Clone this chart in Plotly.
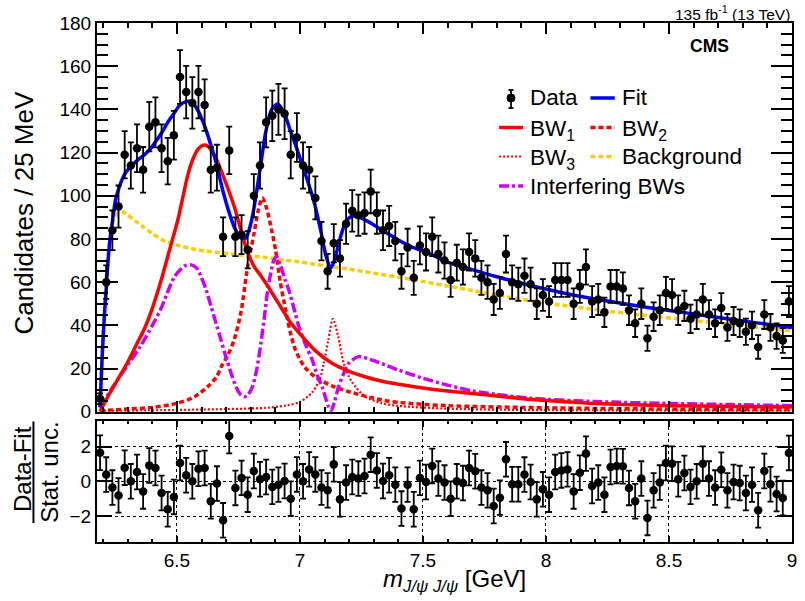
import numpy as np
import plotly.graph_objects as go

FONT = "Liberation Sans, Arial, Helvetica, sans-serif"

# ---------------- data ----------------
bin_low = 6.175
bin_width = 0.025

counts = [6, 60, 84, 95, 119, 114, 122, 112, 132, 134, 122, 116, 128, 155, 148, 143, 148, 142, 112, 113,
          81, 121, 81, 82, 75, 100, 114, 134, 137,
          140, 138, 119, 127, 114, 112, 99, 79, 65, 78, 71, 87, 93, 91, 92, 102, 92, 84, 86, 79, 65,
          76, 62, 77, 74, 81, 73, 70,
          61, 69, 67, 74, 71, 62, 60, 52, 55, 73, 60, 59, 63, 59, 50, 54, 51, 61, 61, 61, 50, 58, 67,
          51, 52, 46, 58, 58,
          57, 47, 41, 50, 34, 44, 47, 55, 54, 47, 49, 43, 45, 52, 45, 41, 48, 39, 42, 41, 37, 40, 30,
          45, 39, 35, 33, 51]

pulls = [1.65, 0.39, -0.36, -0.81, 0.79, 0.0, 0.54, -0.58, 0.92, 0.77, -0.67, -1.61, -0.9, 1.06, 0.35,
         0.0, 0.73, 0.77, -1.15, -0.13, -2.25, 2.62, -0.38, 0.2, -0.77, 0.6, 0.12, 0.25, -0.32, -0.19,
         0.02, -1.0, 0.4, 0.0, 0.69, 0.4, -0.36, -0.52, 0.98, -1.04, -0.07, 0.25, 0.16, 0.31, 1.54,
         0.63, 0.02, 0.35, -0.19, -1.57, -0.19, -1.61, 0.2, -0.04, 0.89, 0.16, -0.07,
         -1.0, 0.0, -0.1, 0.77, 0.58, -0.36, -0.52, -1.42, -0.94, 1.27, -0.17, -0.17, 0.39, -0.04,
         -1.04, -0.46, -0.77, 0.54, 0.63, 0.69, -0.58, 0.5, 1.6, -0.27, -0.07, -0.77, 0.83, 0.89,
         0.87, -0.38, -1.15, 0.16, -2.11, -0.52, -0.07, 1.06, 1.02, 0.12, 0.48, -0.32, 0.0, 1.02,
         0.16, -0.36, 0.67, -0.52, -0.04, -0.1, -0.67, -0.19, -1.67, 0.6, -0.17, -0.73, -0.96, 1.64]

fit_x = [6.187, 6.197, 6.207, 6.2125, 6.22, 6.23, 6.2375, 6.25, 6.2625, 6.275, 6.2875, 6.30, 6.3125,
         6.34, 6.3625, 6.39, 6.41, 6.44, 6.46, 6.49, 6.51, 6.54, 6.56, 6.585, 6.61, 6.635, 6.66,
         6.685, 6.71, 6.735, 6.76, 6.78, 6.80, 6.8125, 6.84, 6.86, 6.885, 6.91, 6.935, 6.96, 6.985,
         7.01, 7.035, 7.06, 7.085, 7.105, 7.125, 7.14, 7.16, 7.185, 7.21, 7.24, 7.27, 7.30, 7.35,
         7.40, 7.45, 7.50, 7.60, 7.70, 7.80, 7.90, 8.00, 8.10, 8.20, 8.30, 8.40, 8.50, 8.60, 8.70,
         8.80, 8.90, 9.00]
fit_y = [2, 28, 48, 57, 70, 82, 88, 98, 103, 107, 110, 112, 113.5, 116.5, 118.5, 121.5, 124.5, 129.5,
         133.5, 138.5, 141.8, 143.7, 143.5, 139.5, 133, 124.5, 115, 103, 93, 85, 80.5, 80.5, 87, 94,
         114, 129, 140, 142.5, 138.5, 130.5, 122.5, 114, 105.5, 96, 83.5, 72.5, 66.5, 70, 79, 87.5,
         90.5, 90, 88.5, 86.5, 83, 79.5, 76.5, 74.5, 69.3, 65.8, 62.5, 59.5, 56.8, 54.3, 52.2, 50.3,
         48.5, 46.9, 45.3, 43.6, 42, 40.5, 39]

bw1_x = [6.187, 6.21, 6.234, 6.26, 6.30, 6.335, 6.37, 6.40, 6.436, 6.47, 6.504, 6.525, 6.545, 6.565,
         6.585, 6.60, 6.612, 6.625, 6.64, 6.66, 6.68, 6.705, 6.733, 6.76, 6.787, 6.815, 6.841, 6.87,
         6.90, 6.93, 6.96, 7.0, 7.06, 7.13, 7.2, 7.265, 7.33, 7.4, 7.5, 7.6, 7.7, 7.8, 7.94, 8.1,
         8.2, 8.35, 8.5, 8.7, 9.0]
bw1_y = [0, 5, 10, 15, 23, 31, 39, 48, 61, 75, 89, 100, 110, 117, 121.5, 123, 123.5, 123, 121, 117,
         111.5, 104, 95, 84, 74, 67, 63, 58, 52.5, 47, 41.5, 36, 28.5, 22.4, 18.7, 16.2, 14.2, 12.7,
         11, 9.6, 8.4, 7.3, 5.6, 4.5, 3.8, 3.2, 2.8, 2.5, 2.2]

bw2_x = [6.187, 6.3, 6.4, 6.5, 6.571, 6.625, 6.66, 6.68, 6.706, 6.733, 6.76, 6.787, 6.814, 6.83,
         6.847, 6.865, 6.885, 6.901, 6.92, 6.942, 6.96, 6.982, 7.02, 7.063, 7.13, 7.198, 7.333, 7.4,
         7.6, 8.0, 8.5, 9.0]
bw2_y = [0.5, 1.2, 2, 3.9, 6.9, 11.6, 16, 20.8, 26, 33.5, 46, 67, 83, 93, 99, 94, 84, 74.8, 60, 47,
         37, 28.5, 20.5, 16, 12, 9.3, 5.4, 4.3, 2.8, 1.8, 1.2, 0.9]

bw3_x = [6.187, 6.6, 6.861, 6.95, 7.0, 7.05, 7.08, 7.097, 7.115, 7.134, 7.155, 7.178, 7.21, 7.265,
         7.33, 7.4, 7.6, 8.0, 9.0]
bw3_y = [0.3, 1, 1.8, 3, 4.5, 9, 15, 22.4, 33, 43, 35, 22.4, 14, 7, 4, 2.7, 1.4, 0.7, 0.3]

bkg_x = [6.187, 6.194, 6.20, 6.207, 6.214, 6.225, 6.241, 6.26, 6.281, 6.30, 6.33, 6.362, 6.40,
         6.456, 6.52, 6.591, 6.66, 6.726, 6.80, 6.861, 6.93, 6.996, 7.06, 7.131, 7.2, 7.265, 7.33,
         7.4, 7.5, 7.6, 7.7, 7.8, 7.9, 8.0, 8.2, 8.4, 8.6, 8.8, 9.0]
bkg_y = [2, 20, 38, 52, 65, 78, 88, 92, 92.5, 91, 88.5, 85.6, 82.5, 78.7, 76.5, 74.8, 73.8, 73, 72,
         71.4, 70.4, 69.4, 68.3, 67.1, 66, 64.8, 63.6, 62.3, 60.3, 58.2, 56.1, 54, 52.1, 50.3, 47.3,
         44.6, 42.2, 39.8, 37.5]

intf_x = [6.187, 6.248, 6.302, 6.35, 6.40, 6.436, 6.49, 6.53, 6.558, 6.58, 6.598, 6.62, 6.639, 6.66,
          6.679, 6.70, 6.72, 6.74, 6.76, 6.775, 6.79, 6.807, 6.825, 6.841, 6.855, 6.867, 6.88, 6.894,
          6.905, 6.92, 6.94, 6.955, 6.975, 6.996, 7.025, 7.05, 7.07, 7.09, 7.105, 7.117, 7.126, 7.14,
          7.157, 7.177, 7.198, 7.238, 7.29, 7.35, 7.4, 7.5, 7.6, 7.7, 7.8, 7.94, 8.2, 8.5, 8.75, 9.0]
intf_y = [2, 13, 22, 30, 40, 48, 62.5, 67.4, 68, 66.5, 62.5, 56, 48.6, 40.5, 33.2, 25, 17.8, 11.5,
          7.7, 6.9, 8, 11.6, 20, 31.6, 43.5, 54.8, 63.5, 70.2, 71.8, 68, 61, 56.3, 48, 39.3, 30.5,
          23.9, 17, 11.6, 6, 2, 0.3, 4.5, 11.6, 17.5, 22.4, 25.5, 24, 21.5, 19.3, 15.5, 12.3, 9.7, 8,
          6.2, 4.7, 3.8, 3.3, 2.8]

x_ticks = [6.5, 7, 7.5, 8, 8.5, 9]
x_tick_text = ["6.5", "7", "7.5", "8", "8.5", "9"]
pull_ticks = [-2, 0, 2]
pull_tick_text = ["\u22122", "0", "2"]

# ---------------- derived ----------------
n_bins = len(counts)
centers = bin_low + bin_width * (np.arange(n_bins) + 0.5)
counts_a = np.array(counts, dtype=float)
count_err = np.sqrt(counts_a)
pull_err = np.ones(n_bins)

BLUE = "#0000ff"
RED = "#ff0000"
ORANGE = "#ffcc00"
VIOLET = "#cc00ff"

# layout geometry (px)
W, H = 805, 601
ML, MR, MT, MB = 97, 8, 23, 59
PW = W - ML - MR
PH = H - MT - MB


def px(xp, yp):
    return (xp - ML) / PW, (H - MB - yp) / PH


main_dom = [(H - MB - 411.7) / PH, 1.0]
pull_dom = [0.0, (H - MB - 420.7) / PH]

fig = go.Figure()

curve_specs = [
    (bkg_x, bkg_y, ORANGE, 3.5, "5px,3px"),
    (bw3_x, bw3_y, RED, 2.2, "2px,2px"),
    (bw2_x, bw2_y, RED, 3.5, "5px,3px"),
    (intf_x, intf_y, VIOLET, 3.5, "10px,3px,3px,3px"),
    (bw1_x, bw1_y, RED, 3.5, "solid"),
    (fit_x, fit_y, BLUE, 3.5, "solid"),
]
for cx, cy, col, lw, dash in curve_specs:
    fig.add_trace(go.Scatter(x=cx, y=cy, mode="lines", xaxis="x", yaxis="y",
                             line=dict(color=col, width=lw, dash=dash, shape="spline", smoothing=0.8),
                             hoverinfo="skip"))

fig.add_trace(go.Scatter(x=centers, y=counts_a, mode="markers", xaxis="x", yaxis="y",
                         marker=dict(color="black", size=8.5),
                         error_y=dict(type="data", array=count_err, color="black", thickness=1.8, width=3)))

fig.add_trace(go.Scatter(x=centers, y=pulls, mode="markers", xaxis="x2", yaxis="y2",
                         marker=dict(color="black", size=8.5),
                         error_y=dict(type="data", array=pull_err, color="black", thickness=1.8, width=3)))

axis_common = dict(showline=True, linewidth=2, linecolor="black", mirror="ticks",
                   zeroline=False, tickcolor="black", tickwidth=1.5)

fig.update_layout(
    width=W, height=H,
    margin=dict(l=ML, r=MR, t=MT, b=MB),
    plot_bgcolor="white", paper_bgcolor="white", showlegend=False,
    font=dict(family=FONT, size=19, color="black"),
    xaxis=dict(domain=[0, 1], range=[bin_low, bin_low + bin_width * n_bins], anchor="y",
               showticklabels=False, ticks="inside", ticklen=11, tickvals=x_ticks,
               minor=dict(dtick=0.1, ticklen=5, ticks="inside", tickcolor="black", tickwidth=1.5),
               showgrid=False, **axis_common),
    yaxis=dict(domain=main_dom, range=[0, 180], anchor="x", ticks="inside", ticklen=21, dtick=20,
               minor=dict(dtick=5, ticklen=11, ticks="inside", tickcolor="black", tickwidth=1.5),
               showgrid=False, tickfont=dict(size=19), **axis_common),
    xaxis2=dict(domain=[0, 1], range=[bin_low, bin_low + bin_width * n_bins], anchor="y2",
                ticks="inside", ticklen=6, tickvals=x_ticks, ticktext=x_tick_text,
                minor=dict(dtick=0.1, ticklen=3, ticks="inside", tickcolor="black", tickwidth=1.5),
                showgrid=True, gridcolor="black", griddash="dot", gridwidth=1.2,
                tickfont=dict(size=19), **axis_common),
    yaxis2=dict(domain=pull_dom, range=[-3.5, 3.5], anchor="x2", ticks="inside", ticklen=15,
                tickvals=pull_ticks, ticktext=pull_tick_text,
                showgrid=True, gridcolor="black", griddash="dot", gridwidth=1.2,
                tickfont=dict(size=19), **axis_common),
)

annotations = []
shapes = []


def add_text(text, xp, yp, size, xanchor="left", yanchor="middle", angle=0):
    ax, ay = px(xp, yp)
    annotations.append(dict(text=text, x=ax, y=ay, xref="paper", yref="paper", showarrow=False,
                            xanchor=xanchor, yanchor=yanchor, textangle=angle,
                            font=dict(family=FONT, size=size, color="black")))


def add_line(x0, y0, x1, y1, color, width, dash="solid"):
    a0, b0 = px(x0, y0)
    a1, b1 = px(x1, y1)
    shapes.append(dict(type="line", xref="paper", yref="paper", x0=a0, y0=b0, x1=a1, y1=b1,
                       line=dict(color=color, width=width, dash=dash)))


# header texts
add_text("135 fb<sup>-1</sup> (13 TeV)", 797, 13, 15.5, xanchor="right")
add_text("<b>CMS</b>", 714, 46, 17.5, xanchor="center")

# axis titles
add_text("Candidates / 25 MeV", 23, 213, 26, xanchor="center", angle=-90)
add_text("Data-Fit", 21.5, 469, 24, xanchor="center", angle=-90)
add_text("Stat. unc.", 48.5, 472, 24, xanchor="center", angle=-90)
add_line(33, 421.5, 33, 523, "black", 2)
add_text("<i>m</i><sub><i>J/\u03c8 J/\u03c8</i></sub> [GeV]", 457, 580, 24, xanchor="center")

# legend
LEG_SIZE = 22.5
c1x0, c1x1, c1t = 502, 526, 531.5
c2x0, c2x1, c2t = 594, 618.5, 624
r1, r2, r3, r4 = 98, 127.5, 156.5, 186

# Data symbol
mx = (c1x0 + c1x1) / 2
add_line(mx, 90, mx, 108, "black", 1.8)
add_line(mx - 2.5, 90, mx + 2.5, 90, "black", 1.8)
add_line(mx - 2.5, 108, mx + 2.5, 108, "black", 1.8)
cx0, cy0 = px(mx - 4, r1 - 4)
cx1, cy1 = px(mx + 4, r1 + 4)
shapes.append(dict(type="circle", xref="paper", yref="paper", x0=cx0, y0=cy0, x1=cx1, y1=cy1,
                   fillcolor="black", line=dict(color="black", width=1)))
add_text("Data", c1t, r1, LEG_SIZE)

add_line(c2x0, r1, c2x1, r1, BLUE, 3.5)
add_text("Fit", c2t, r1, LEG_SIZE)

add_line(c1x0, r2, c1x1, r2, RED, 3.5)
add_text("BW<sub>1</sub>", c1t, r2 + 2, LEG_SIZE)
add_line(c2x0, r2, c2x1, r2, RED, 3.5, "5px,3px")
add_text("BW<sub>2</sub>", c2t, r2 + 2, LEG_SIZE)

add_line(c1x0, r3, c1x1, r3, RED, 2.2, "2px,2px")
add_text("BW<sub>3</sub>", c1t, r3 + 2, LEG_SIZE)
add_line(c2x0, r3, c2x1, r3, ORANGE, 3.5, "5px,3px")
add_text("Background", c2t, r3, LEG_SIZE)

add_line(c1x0, r4, c1x1, r4, VIOLET, 3.5, "10px,3px,3px,3px")
add_text("Interfering BWs", c1t, r4, LEG_SIZE)

fig.update_layout(annotations=annotations, shapes=shapes)

fig.write_html("out.html")
